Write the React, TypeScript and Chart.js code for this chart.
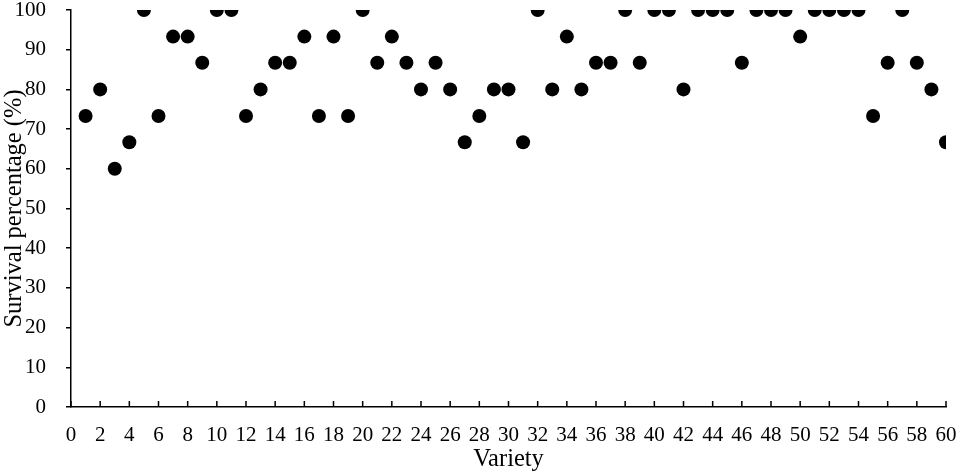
import React, { useEffect, useRef } from "react";
import { Chart, registerables } from "chart.js";

Chart.register(...registerables);

const varieties: number[] = Array.from({ length: 60 }, (_, i) => i + 1);
const survival: number[] = [
  73.3, 80, 60, 66.7, 100, 73.3, 93.3, 93.3, 86.7, 100,
  100, 73.3, 80, 86.7, 86.7, 93.3, 73.3, 93.3, 73.3, 100,
  86.7, 93.3, 86.7, 80, 86.7, 80, 66.7, 73.3, 80, 80,
  66.7, 100, 80, 93.3, 80, 86.7, 86.7, 100, 86.7, 100,
  100, 80, 100, 100, 100, 86.7, 100, 100, 100, 93.3,
  100, 100, 100, 100, 73.3, 86.7, 100, 86.7, 80, 66.7,
];
const xTitle = "Variety";
const yTitle = "Survival percentage (%)";

const FONT = "'Liberation Serif', 'Times New Roman', serif";

const inwardXTicks = {
  id: "inwardXTicks",
  afterDraw(chart: any) {
    const x = chart.scales.x;
    const ctx = chart.ctx;
    const bottom = chart.chartArea.bottom;
    ctx.save();
    ctx.strokeStyle = "#000";
    ctx.lineWidth = 1.5;
    ctx.beginPath();
    x.ticks.forEach((t: any) => {
      const px = x.getPixelForValue(t.value);
      ctx.moveTo(px, bottom);
      ctx.lineTo(px, bottom - 6);
    });
    ctx.stroke();
    ctx.restore();
  },
};

export default function App() {
  const ref = useRef<HTMLCanvasElement | null>(null);
  useEffect(() => {
    if (!ref.current) return;
    const chart = new Chart(ref.current, {
      type: "scatter",
      data: {
        datasets: [
          {
            data: varieties.map((v, i) => ({ x: v, y: survival[i] })),
            backgroundColor: "#000",
            borderColor: "#000",
            pointRadius: 7,
            pointHoverRadius: 7,
            borderWidth: 0,
          },
        ],
      },
      options: {
        animation: false,
        responsive: false,
        maintainAspectRatio: false,
        layout: { padding: { top: 10, right: 11, left: 0, bottom: 0 } },
        plugins: { legend: { display: false }, tooltip: { enabled: false } },
        scales: {
          x: {
            type: "linear",
            min: 0,
            max: 60,
            afterFit: (s: any) => {
              s.height = 67;
              s.paddingLeft = 0;
              s.paddingRight = 0;
            },
            ticks: {
              stepSize: 2,
              color: "#000",
              padding: 16,
              font: { family: FONT, size: 21 },
              maxRotation: 0,
              autoSkip: false,
            },
            grid: { display: false, drawTicks: false },
            border: { display: true, color: "#000", width: 1.5 },
            title: {
              display: true,
              text: xTitle,
              color: "#000",
              font: { family: FONT, size: 24.5 },
              padding: { top: 0, bottom: 0 },
            },
          },
          y: {
            min: 0,
            max: 100,
            afterFit: (s: any) => {
              s.width = 71;
              s.paddingTop = 0;
              s.paddingBottom = 0;
            },
            ticks: {
              stepSize: 10,
              color: "#000",
              padding: 20,
              font: { family: FONT, size: 21 },
            },
            grid: {
              display: true,
              drawOnChartArea: false,
              drawTicks: true,
              tickLength: 5,
              color: "#000",
              lineWidth: 1.5,
            },
            border: { display: true, color: "#000", width: 1.5 },
            title: {
              display: true,
              text: yTitle,
              color: "#000",
              font: { family: FONT, size: 24.5 },
              padding: { top: 0, bottom: 0 },
            },
          },
        },
      },
      plugins: [inwardXTicks],
    });
    return () => chart.destroy();
  }, []);
  return (
    <div style={{ position: "fixed", left: 0, top: 0, width: 957, height: 474, background: "#fff" }}>
      <canvas ref={ref} width={957} height={474} style={{ width: 957, height: 474 }} />
    </div>
  );
}
